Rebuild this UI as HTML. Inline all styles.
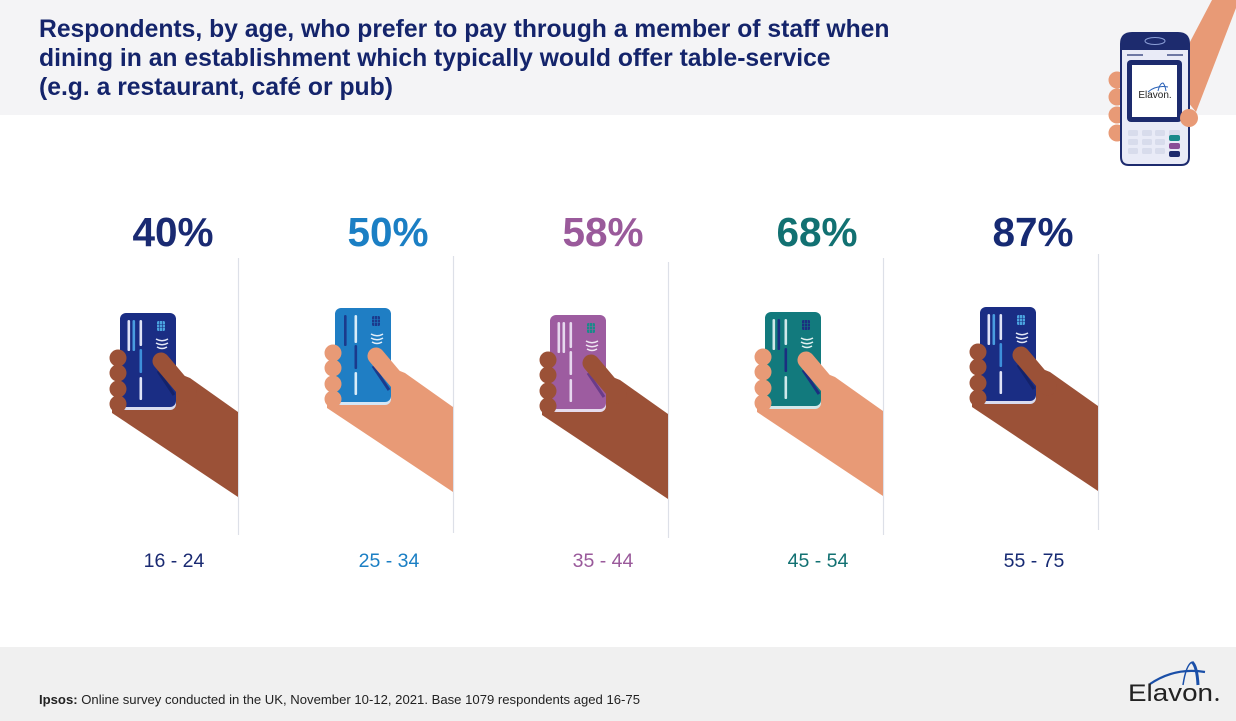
<!DOCTYPE html>
<html><head><meta charset="utf-8"><style>
html,body{margin:0;padding:0;background:#fff;}
svg{display:block;}
text{font-family:"Liberation Sans",Arial,sans-serif;}
</style></head><body>
<svg width="1236" height="721" viewBox="0 0 1236 721" xmlns="http://www.w3.org/2000/svg">
<rect x="0" y="0" width="1236" height="721" fill="#ffffff"/>
<rect x="0" y="0" width="1236" height="115" fill="#f4f4f6"/>
<rect x="0" y="647" width="1236" height="74" fill="#f0f0f0"/>

<!-- Title -->
<g fill="#14246b" font-weight="bold" font-size="24.7">
<text x="39" y="37">Respondents, by age, who prefer to pay through a member of staff when</text>
<text x="39" y="66">dining in an establishment which typically would offer table-service</text>
<text x="39" y="95">(e.g. a restaurant, café or pub)</text>
</g>

<!-- Terminal top-right -->
<g>
<polygon points="1212,0 1236,0 1236,8 1196,112 1170,80" fill="#e89a76"/>
<circle cx="1117" cy="80" r="8.5" fill="#e89a76"/>
<circle cx="1117" cy="97" r="8.5" fill="#e89a76"/>
<circle cx="1117" cy="115" r="8.5" fill="#e89a76"/>
<circle cx="1117" cy="133" r="8.5" fill="#e89a76"/>
<path d="M1121,44 Q1121,33 1132,33 L1178,33 Q1189,33 1189,44 L1189,157 Q1189,165 1181,165 L1129,165 Q1121,165 1121,157 Z" fill="#e9ebf7" stroke="#1d2b6e" stroke-width="2"/>
<path d="M1121,44 Q1121,33 1132,33 L1178,33 Q1189,33 1189,44 L1189,50 L1121,50 Z" fill="#1d2b6e"/>
<ellipse cx="1155" cy="41" rx="10" ry="3.5" fill="none" stroke="#8da0d8" stroke-width="1"/>
<line x1="1127" y1="55" x2="1143" y2="55" stroke="#1d2b6e" stroke-width="1.2"/>
<line x1="1167" y1="55" x2="1183" y2="55" stroke="#1d2b6e" stroke-width="1.2"/>
<rect x="1127" y="60" width="55" height="62" rx="4" fill="#1d2b6e"/>
<rect x="1132" y="65" width="45" height="52" fill="#ffffff"/>
<text x="1155" y="98" font-size="10" fill="#222" text-anchor="middle">Elavon.</text>
<path d="M1148,92 Q1156,85 1168,87" stroke="#2a62b8" stroke-width="1" fill="none"/>
<path d="M1158,91 Q1160,83 1163,83 Q1165,85 1166,91" stroke="#2a62b8" stroke-width="1" fill="none"/>
<g fill="#d8dcec">
<rect x="1128" y="130" width="10" height="6" rx="1.5"/>
<rect x="1142" y="130" width="10" height="6" rx="1.5"/>
<rect x="1155" y="130" width="10" height="6" rx="1.5"/>
<rect x="1169" y="130" width="11" height="6" rx="1.5"/>
<rect x="1128" y="139" width="10" height="6" rx="1.5"/>
<rect x="1142" y="139" width="10" height="6" rx="1.5"/>
<rect x="1155" y="139" width="10" height="6" rx="1.5"/>
<rect x="1128" y="148" width="10" height="6" rx="1.5"/>
<rect x="1142" y="148" width="10" height="6" rx="1.5"/>
<rect x="1155" y="148" width="10" height="6" rx="1.5"/>
</g>
<rect x="1169" y="135" width="11" height="6" rx="2" fill="#1a8a8a"/>
<rect x="1169" y="143" width="11" height="6" rx="2" fill="#8a4f96"/>
<rect x="1169" y="151" width="11" height="6" rx="2" fill="#1d2b6e"/>
<circle cx="1189" cy="118" r="9" fill="#e89a76"/>
</g>

<!-- Percentages -->
<g font-weight="bold" font-size="40.5" text-anchor="middle">
<text x="173" y="246" fill="#1a2a72">40%</text>
<text x="388" y="246" fill="#1b7fc4">50%</text>
<text x="603" y="246" fill="#9a5a9b">58%</text>
<text x="817" y="246" fill="#127172">68%</text>
<text x="1033" y="246" fill="#162a73">87%</text>
</g>

<!-- Dividers -->
<g stroke="#dde0e8" stroke-width="1.2">
<line x1="238.5" y1="258" x2="238.5" y2="535"/>
<line x1="453.5" y1="256" x2="453.5" y2="533"/>
<line x1="668.5" y1="262" x2="668.5" y2="538"/>
<line x1="883.5" y1="258" x2="883.5" y2="535"/>
<line x1="1098.5" y1="254" x2="1098.5" y2="530"/>
</g>

<!-- Panel 1 -->
<g transform="translate(0,0)">
<polygon points="112,402 165,368 190,378 238,412 238,497 112,413" fill="#9b5137"/>
<rect x="120" y="315" width="56" height="95" rx="6" fill="#d9dcef"/>
<rect x="120" y="313" width="56" height="94" rx="6" fill="#1a2d84"/>
<rect x="127.5" y="320" width="2.6" height="31" rx="1.3" fill="#dfe3f7"/>
<rect x="132.5" y="320" width="2.6" height="31" rx="1.3" fill="#4a9de0"/>
<rect x="139.5" y="320" width="2.6" height="26" rx="1.3" fill="#dfe3f7"/>
<rect x="139.5" y="349" width="2.6" height="24" rx="1.3" fill="#3d8fdb"/>
<rect x="139.5" y="377" width="2.6" height="23" rx="1.3" fill="#dfe3f7"/>
<rect x="157" y="321" width="8" height="10" rx="1.5" fill="#4aa3e0"/>
<path d="M159.7,321 V331 M162.3,321 V331 M157,324.5 H165 M157,327.5 H165" stroke="#1a2d84" stroke-width="0.6"/>
<path d="M156,339 q6,3.5 12,0 M156,343 q6,3.5 12,0 M157,347 q5,3 10,0" stroke="#e3e8f7" stroke-width="1.5" fill="none"/>
<line x1="158" y1="371" x2="174" y2="395" stroke="#14226a" stroke-width="3"/>
<line x1="161" y1="361" x2="188" y2="393" stroke="#9b5137" stroke-width="17" stroke-linecap="round"/>
<circle cx="118" cy="358" r="8.5" fill="#9b5137"/>
<circle cx="118" cy="373" r="8.5" fill="#9b5137"/>
<circle cx="118" cy="389" r="8.5" fill="#9b5137"/>
<circle cx="118" cy="404" r="8.5" fill="#9b5137"/>
</g>

<!-- Panel 2 -->
<g transform="translate(215,-5)">
<polygon points="112,402 165,368 190,378 238,412 238,497 112,413" fill="#e89a76"/>
<rect x="120" y="315" width="56" height="95" rx="6" fill="#d6e6f5"/>
<rect x="120" y="313" width="56" height="94" rx="6" fill="#1f7ec4"/>
<rect x="129" y="320" width="2.6" height="31" rx="1.3" fill="#1b3a8c"/>
<rect x="139.5" y="320" width="2.6" height="28" rx="1.3" fill="#d9ecf8"/>
<rect x="139.5" y="350" width="2.6" height="24" rx="1.3" fill="#1b3a8c"/>
<rect x="139.5" y="377" width="2.6" height="23" rx="1.3" fill="#d9ecf8"/>
<rect x="157" y="321" width="8" height="10" rx="1.5" fill="#1b3a8c"/>
<path d="M159.7,321 V331 M162.3,321 V331 M157,324.5 H165 M157,327.5 H165" stroke="#1f7ec4" stroke-width="0.6"/>
<path d="M156,339 q6,3.5 12,0 M156,343 q6,3.5 12,0 M157,347 q5,3 10,0" stroke="#e3eef9" stroke-width="1.5" fill="none"/>
<line x1="158" y1="371" x2="174" y2="395" stroke="#1b3a8c" stroke-width="3"/>
<line x1="161" y1="361" x2="188" y2="393" stroke="#e89a76" stroke-width="17" stroke-linecap="round"/>
<circle cx="118" cy="358" r="8.5" fill="#e89a76"/>
<circle cx="118" cy="373" r="8.5" fill="#e89a76"/>
<circle cx="118" cy="389" r="8.5" fill="#e89a76"/>
<circle cx="118" cy="404" r="8.5" fill="#e89a76"/>
</g>

<!-- Panel 3 -->
<g transform="translate(430,2)">
<polygon points="112,402 165,368 190,378 238,412 238,497 112,413" fill="#9b5137"/>
<rect x="120" y="315" width="56" height="95" rx="6" fill="#e6dcee"/>
<rect x="120" y="313" width="56" height="94" rx="6" fill="#9d5ca0"/>
<rect x="127.5" y="320" width="2.6" height="31" rx="1.3" fill="#e6d8ee"/>
<rect x="132.5" y="320" width="2.6" height="31" rx="1.3" fill="#e6d8ee"/>
<rect x="139.5" y="320" width="2.6" height="26" rx="1.3" fill="#e6d8ee"/>
<rect x="139.5" y="349" width="2.6" height="24" rx="1.3" fill="#e6d8ee"/>
<rect x="139.5" y="377" width="2.6" height="23" rx="1.3" fill="#e6d8ee"/>
<rect x="157" y="321" width="8" height="10" rx="1.5" fill="#1a8a8a"/>
<path d="M159.7,321 V331 M162.3,321 V331 M157,324.5 H165 M157,327.5 H165" stroke="#9d5ca0" stroke-width="0.6"/>
<path d="M156,339 q6,3.5 12,0 M156,343 q6,3.5 12,0 M157,347 q5,3 10,0" stroke="#efe6f3" stroke-width="1.5" fill="none"/>
<line x1="158" y1="371" x2="174" y2="395" stroke="#6a3c8a" stroke-width="3"/>
<line x1="161" y1="361" x2="188" y2="393" stroke="#9b5137" stroke-width="17" stroke-linecap="round"/>
<circle cx="118" cy="358" r="8.5" fill="#9b5137"/>
<circle cx="118" cy="373" r="8.5" fill="#9b5137"/>
<circle cx="118" cy="389" r="8.5" fill="#9b5137"/>
<circle cx="118" cy="404" r="8.5" fill="#9b5137"/>
</g>

<!-- Panel 4 -->
<g transform="translate(645,-1)">
<polygon points="112,402 165,368 190,378 238,412 238,497 112,413" fill="#e89a76"/>
<rect x="120" y="315" width="56" height="95" rx="6" fill="#d2e8ea"/>
<rect x="120" y="313" width="56" height="94" rx="6" fill="#127a7d"/>
<rect x="127.5" y="320" width="2.6" height="31" rx="1.3" fill="#cfe8ea"/>
<rect x="132.5" y="320" width="2.6" height="31" rx="1.3" fill="#1b2f80"/>
<rect x="139.5" y="320" width="2.6" height="26" rx="1.3" fill="#cfe8ea"/>
<rect x="139.5" y="349" width="2.6" height="24" rx="1.3" fill="#1b2f80"/>
<rect x="139.5" y="377" width="2.6" height="23" rx="1.3" fill="#cfe8ea"/>
<rect x="157" y="321" width="8" height="10" rx="1.5" fill="#1b2f80"/>
<path d="M159.7,321 V331 M162.3,321 V331 M157,324.5 H165 M157,327.5 H165" stroke="#127a7d" stroke-width="0.6"/>
<path d="M156,339 q6,3.5 12,0 M156,343 q6,3.5 12,0 M157,347 q5,3 10,0" stroke="#e0f0f0" stroke-width="1.5" fill="none"/>
<line x1="158" y1="371" x2="174" y2="395" stroke="#1b2f80" stroke-width="3"/>
<line x1="161" y1="361" x2="188" y2="393" stroke="#e89a76" stroke-width="17" stroke-linecap="round"/>
<circle cx="118" cy="358" r="8.5" fill="#e89a76"/>
<circle cx="118" cy="373" r="8.5" fill="#e89a76"/>
<circle cx="118" cy="389" r="8.5" fill="#e89a76"/>
<circle cx="118" cy="404" r="8.5" fill="#e89a76"/>
</g>

<!-- Panel 5 -->
<g transform="translate(860,-6)">
<polygon points="112,402 165,368 190,378 238,412 238,497 112,413" fill="#9b5137"/>
<rect x="120" y="315" width="56" height="95" rx="6" fill="#d9dcef"/>
<rect x="120" y="313" width="56" height="94" rx="6" fill="#1a2d84"/>
<rect x="127.5" y="320" width="2.6" height="31" rx="1.3" fill="#dfe3f7"/>
<rect x="132.5" y="320" width="2.6" height="31" rx="1.3" fill="#4a9de0"/>
<rect x="139.5" y="320" width="2.6" height="26" rx="1.3" fill="#dfe3f7"/>
<rect x="139.5" y="349" width="2.6" height="24" rx="1.3" fill="#3d8fdb"/>
<rect x="139.5" y="377" width="2.6" height="23" rx="1.3" fill="#dfe3f7"/>
<rect x="157" y="321" width="8" height="10" rx="1.5" fill="#4aa3e0"/>
<path d="M159.7,321 V331 M162.3,321 V331 M157,324.5 H165 M157,327.5 H165" stroke="#1a2d84" stroke-width="0.6"/>
<path d="M156,339 q6,3.5 12,0 M156,343 q6,3.5 12,0 M157,347 q5,3 10,0" stroke="#e3e8f7" stroke-width="1.5" fill="none"/>
<line x1="158" y1="371" x2="174" y2="395" stroke="#14226a" stroke-width="3"/>
<line x1="161" y1="361" x2="188" y2="393" stroke="#9b5137" stroke-width="17" stroke-linecap="round"/>
<circle cx="118" cy="358" r="8.5" fill="#9b5137"/>
<circle cx="118" cy="373" r="8.5" fill="#9b5137"/>
<circle cx="118" cy="389" r="8.5" fill="#9b5137"/>
<circle cx="118" cy="404" r="8.5" fill="#9b5137"/>
</g>

<!-- Age labels -->
<g font-size="19.5" text-anchor="middle">
<text x="174" y="567" fill="#1a2a72">16 - 24</text>
<text x="389" y="567" fill="#1b7fc4">25 - 34</text>
<text x="603" y="567" fill="#9a5a9b">35 - 44</text>
<text x="818" y="567" fill="#127172">45 - 54</text>
<text x="1034" y="567" fill="#162a73">55 - 75</text>
</g>

<!-- Footer -->
<text x="39" y="704" font-size="13" fill="#222" textLength="601" lengthAdjust="spacingAndGlyphs"><tspan font-weight="bold">Ipsos:</tspan> Online survey conducted in the UK, November 10-12, 2021. Base 1079 respondents aged 16-75</text>

<!-- Elavon logo -->
<path d="M1150,684 Q1175,667 1205,672" stroke="#1a4fa8" stroke-width="2.2" fill="none"/>
<path d="M1183,685 Q1186,665 1192,662" stroke="#1a4fa8" stroke-width="1.5" fill="none"/>
<path d="M1192,662 Q1197,666 1198,685" stroke="#1a4fa8" stroke-width="3" fill="none"/>
<text x="1128" y="701" font-size="24" fill="#222" textLength="85" lengthAdjust="spacingAndGlyphs">Elavon</text>
<circle cx="1217" cy="699.5" r="1.5" fill="#222"/>
</svg>
</body></html>
